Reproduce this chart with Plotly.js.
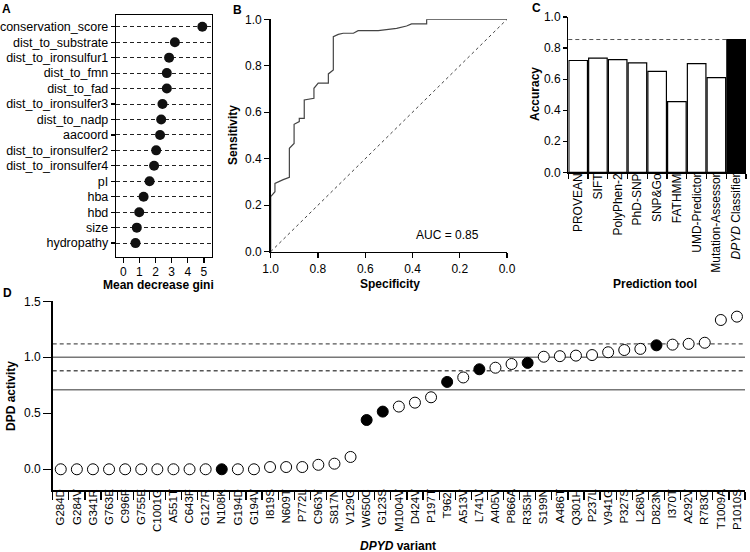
<!DOCTYPE html>
<html>
<head>
<meta charset="utf-8">
<script src="https://cdn.plot.ly/plotly-3.0.1.min.js"></script>
<style>html,body{margin:0;padding:0;background:#fff;}#chart{width:750px;height:552px;}</style>
</head>
<body>
<div id="chart"></div>
<script>
// ---- Panel A: feature importance ----
const featNames = ["conservation_score","dist_to_substrate","dist_to_ironsulfur1","dist_to_fmn","dist_to_fad","dist_to_ironsulfer3","dist_to_nadp","aacoord","dist_to_ironsulfer2","dist_to_ironsulfer4","pI","hba","hbd","size","hydropathy"];
const featGini = [4.9,3.2,2.84,2.7,2.7,2.43,2.35,2.28,2.04,1.91,1.63,1.26,0.99,0.84,0.76];
const giniTicks = [0,1,2,3,4,5];

// ---- Panel B: ROC curve ----
const rocSpec = [1,1,0.982,0.982,0.947,0.921,0.921,0.901,0.901,0.879,0.879,0.858,0.858,0.817,0.817,0.799,0.756,0.756,0.735,0.735,0.714,0.693,0.65,0.63,0.545,0.467,0.425,0.404,0.34,0.34,0];
const rocSens = [0,0.237,0.258,0.294,0.31,0.32,0.445,0.466,0.548,0.56,0.574,0.574,0.653,0.66,0.703,0.725,0.725,0.765,0.782,0.925,0.935,0.94,0.94,0.951,0.951,0.961,0.971,0.98,0.98,1.0,1.0];
const rocTicks = [1,0.8,0.6,0.4,0.2,0];
const aucText = "AUC = 0.85";

// ---- Panel C: accuracy of prediction tools ----
const tools = ["PROVEAN","SIFT","PolyPhen-2","PhD-SNP","SNP&Go","FATHMM","UMD-Predictor","Mutation-Assessor","<i>DPYD</i> Classifier"];
const accuracy = [0.72,0.735,0.725,0.705,0.65,0.455,0.70,0.61,0.855];
const toolFill = ["white","white","white","white","white","white","white","white","black"];

// ---- Panel D: DPD activity per variant ----
const variants = ["G284D","G284V","G341R","G763E","C996F","G755E","C1001G","A551T","C643F","G127R","N108K","G194D","G194V","I819S","N609T","P772L","C963Y","S817N","V129G","W650C","G123S","M1004V","D424V","P197T","T962I","A513V","L741V","A405V","P866A","R353H","S199N","A486T","Q301H","P237L","V941G","P327S","L268V","D823N","I370T","A292V","R783C","T1009A","P1010S"];
const activity = [0,0,0,0,0,0,0,0,0,0,0,0,0,0.02,0.02,0.02,0.04,0.05,0.11,0.44,0.515,0.56,0.595,0.643,0.78,0.82,0.893,0.907,0.94,0.95,1.005,1.01,1.015,1.02,1.045,1.065,1.075,1.107,1.113,1.12,1.13,1.333,1.363];
const filledVariants = ["N108K","W650C","G123S","T962I","L741V","R353H","D823N"];
const refSolid = [1.0, 0.71];
const refDashed = [1.12, 0.88];
const activityTicks = [0,0.5,1.0,1.5];

const W = 750, H = 552;
const px = v => v / W;
const py = v => 1 - v / H;
const FONT = "Liberation Sans, Arial, Helvetica, sans-serif";

const traces = [
  {type:"scatter", mode:"markers", x: featGini, y: featNames, xaxis:"x", yaxis:"y",
   marker:{color:"#111", size:10, line:{width:0}}, cliponaxis:false, hoverinfo:"skip"},
  {type:"scatter", mode:"lines", x:[1,0], y:[0,1], xaxis:"x2", yaxis:"y2",
   line:{color:"#444", width:1, dash:"3px,3px"}, hoverinfo:"skip"},
  {type:"scatter", mode:"lines", x: rocSpec, y: rocSens, xaxis:"x2", yaxis:"y2",
   line:{color:"#444", width:1.2}, hoverinfo:"skip"},
  {type:"bar", x: tools, y: accuracy, xaxis:"x3", yaxis:"y3",
   marker:{color: toolFill, line:{color:"#000", width:1.2}}, hoverinfo:"skip"},
  {type:"scatter", mode:"markers", x: variants, y: activity, xaxis:"x4", yaxis:"y4",
   marker:{size:11, color: variants.map(v => filledVariants.includes(v) ? "#000" : "#fff"),
           line:{color:"#000", width:1}}, cliponaxis:false, hoverinfo:"skip"}
];

const axBase = {showline:true, linecolor:"#000", linewidth:1.3, ticks:"outside", tickcolor:"#000",
  tickwidth:1.2, showgrid:false, zeroline:false, tickfont:{size:12, color:"#000"}};

const shapes = [];
refSolid.forEach(v => shapes.push({type:"line", xref:"x4 domain", yref:"y4", x0:0, x1:1, y0:v, y1:v,
  line:{color:"#777", width:1.5}, layer:"below"}));
refDashed.forEach(v => shapes.push({type:"line", xref:"x4 domain", yref:"y4", x0:0, x1:1, y0:v, y1:v,
  line:{color:"#555", width:1.3, dash:"4px,3px"}, layer:"below"}));
shapes.push({type:"line", xref:"x3 domain", yref:"y3", x0:0, x1:1,
  y0: accuracy[accuracy.length-1], y1: accuracy[accuracy.length-1],
  line:{color:"#555", width:1, dash:"4px,3px"}, layer:"below"});

function ann(text, x, y, opts) {
  return Object.assign({text, xref:"paper", yref:"paper", x:px(x), y:py(y), showarrow:false,
    xanchor:"center", yanchor:"middle", font:{size:12, color:"#000", family:FONT}}, opts || {});
}

const annotations = [
  ann("<b>A</b>", 6, 9),
  ann("<b>B</b>", 237, 10),
  ann("<b>C</b>", 536, 8),
  ann("<b>D</b>", 7, 293),
  ann("<b>Mean decrease gini</b>", 158, 285),
  ann("<b>Sensitivity</b>", 233, 135, {textangle:-90}),
  ann("<b>Specificity</b>", 390, 284),
  ann(aucText, 414, 235, {xanchor:"left"}),
  ann("<b>Accuracy</b>", 535, 94, {textangle:-90}),
  ann("<b>Prediction tool</b>", 655, 284),
  ann("<b>DPD activity</b>", 11, 396, {textangle:-90}),
  ann("<b><i>DPYD</i> variant</b>", 398, 546)
];

const layout = {
  width: W, height: H, margin:{l:0, r:0, t:0, b:0},
  paper_bgcolor:"#fff", plot_bgcolor:"rgba(0,0,0,0)", showlegend:false,
  font:{family:FONT, size:12, color:"#000"},
  xaxis: Object.assign({}, axBase, {domain:[px(116), px(212)], anchor:"y", range:[-0.45,5.5],
    tickvals: giniTicks, mirror:true, ticklen:5, linewidth:1.2, ticklabelstandoff:-2}),
  yaxis: Object.assign({}, axBase, {domain:[py(257), py(15)], anchor:"x", type:"category",
    categoryarray: featNames, categoryorder:"array", range:[14.9,-0.76], mirror:true, ticklen:4,
    linewidth:1.2, showgrid:true, gridcolor:"#222", gridwidth:1, griddash:"4px,3px",
    tickfont:{size:12.5, color:"#000"}}),
  xaxis2: Object.assign({}, axBase, {domain:[px(270.7), px(507)], anchor:"y2", range:[1,0],
    tickvals: rocTicks, tickformat:".1f", ticklen:5, linewidth:1.5}),
  yaxis2: Object.assign({}, axBase, {domain:[py(251.7), py(19.3)], anchor:"x2", range:[0,1],
    dtick:0.2, tickformat:".1f", ticklen:5, linewidth:1.5}),
  xaxis3: Object.assign({}, axBase, {domain:[px(568.3), px(746)], anchor:"y3", type:"category",
    range:[-0.5,8.5], tickson:"boundaries", ticklen:5, tickangle:-90, linewidth:1.3,
    ticklabelstandoff:-5}),
  yaxis3: Object.assign({}, axBase, {domain:[py(172.3), py(17)], anchor:"x3", range:[0,1],
    dtick:0.2, tickformat:".1f", ticklen:4, linewidth:1.3}),
  xaxis4: Object.assign({}, axBase, {domain:[px(52.7), px(745)], anchor:"y4", type:"category",
    range:[-0.5,42.5], tickson:"boundaries", ticklen:8, tickangle:-90, linewidth:1.5,
    ticklabelstandoff:-7, tickfont:{size:11.5, color:"#000"}}),
  yaxis4: Object.assign({}, axBase, {domain:[py(490), py(301.3)], anchor:"x4", range:[-0.185,1.5],
    tickvals: activityTicks, tickformat:".1f", ticklen:8, linewidth:1.5}),
  bargap: 0.06,
  shapes, annotations
};

Plotly.newPlot("chart", traces, layout, {staticPlot:true, displayModeBar:false});
</script>
</body>
</html>
